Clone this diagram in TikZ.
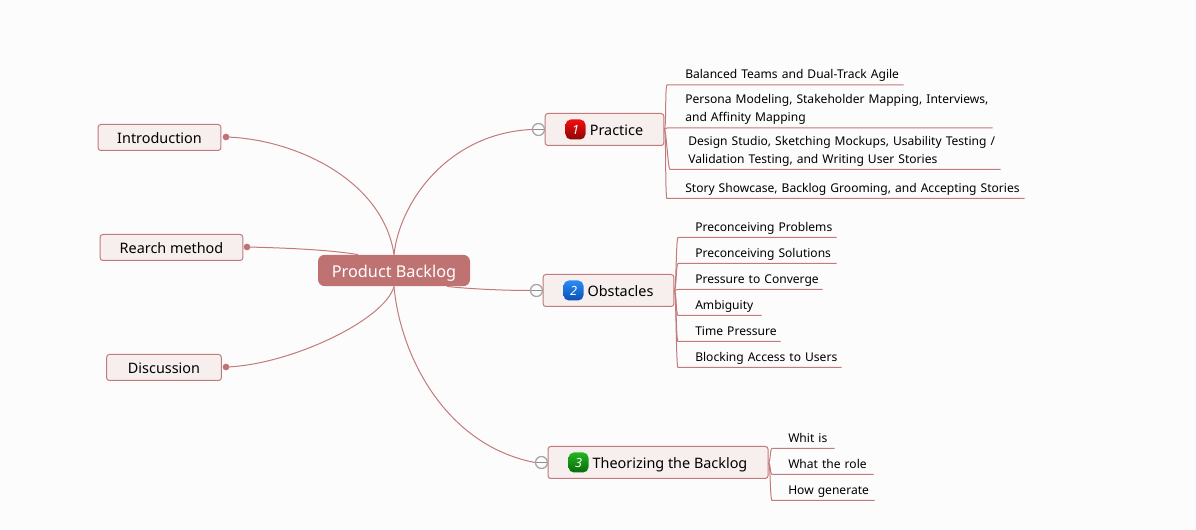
\documentclass[tikz,border=0pt]{standalone}
\usepackage{fontspec}
\setmainfont{Noto Sans}
\usetikzlibrary{positioning}

\definecolor{linered}{HTML}{C27A7A}
\definecolor{rootfill}{HTML}{BF7272}
\definecolor{topicfill}{HTML}{F7EEEE}
\definecolor{pagefill}{HTML}{FCFCFD}
\definecolor{redtop}{HTML}{F01010}
\definecolor{redlow}{HTML}{8E0505}
\definecolor{bluetop}{HTML}{2A8CF5}
\definecolor{bluelow}{HTML}{0A4FB5}
\definecolor{greentop}{HTML}{22B522}
\definecolor{greenlow}{HTML}{0A6A0A}

\tikzset{
  rootbox/.style={fill=rootfill,rounded corners=5pt,minimum width=114pt,minimum height=23.5pt,inner sep=0pt,text=white,text height=13pt,text depth=2.5pt,font=\fontsize{12.2}{14}\selectfont},
  topicbox/.style={draw=linered,line width=.75pt,fill=topicfill,rounded corners=2pt,minimum height=24pt,inner sep=0pt,text height=11pt,text depth=1.5pt,font=\fontsize{10.8}{13}\selectfont},
  sidebox/.style={topicbox,minimum height=19.5pt},
  leafbox/.style={anchor=south west,inner xsep=0pt,inner ysep=.4pt,align=left,font=\fontsize{9.05}{13.5}\selectfont,execute at end node=\strut},
  iconbox/.style={rounded corners=4pt,minimum size=15pt,inner sep=0pt,text=white,font=\fontsize{9.5}{10}\selectfont\bfseries\itshape},
  dotmark/.style={circle,fill=rootfill,minimum size=5pt,inner sep=0pt},
  collapse/.style={circle,draw=gray!70,fill=pagefill,line width=1pt,minimum size=9pt,inner sep=0pt,
    path picture={\draw[gray!90,line width=.75pt] (path picture bounding box.west) -- (path picture bounding box.east);}},
  branch/.style={draw=linered,line width=.75pt},
  leafline/.style={to path={(\tikztostart) .. controls +(2,0) and +(-2,0) .. ([xshift=-#1]\tikztotarget.south west) -- (\tikztotarget.south east)}},
  leafline/.default=13.5pt
}

\begin{document}
\begin{tikzpicture}[x=.75pt,y=-.75pt]
\useasboundingbox (0,0) rectangle (1196,530);
\fill[pagefill] (0,0) rectangle (1196,530);

% central topic
\node[rootbox] (root) at (394,270.5) {Product Backlog};

% left side
\node[sidebox,minimum width=92pt] (intro) at (159.5,137.5) {Introduction};
\node[sidebox,minimum width=107pt] (method) at (171.5,247.5) {Rearch method};
\node[sidebox,minimum width=86pt] (discuss) at (164,367.5) {Discussion};
\node[dotmark] (introdot) at (226,137) {};
\node[dotmark] (methoddot) at (247,247) {};
\node[dotmark] (discussdot) at (226,367) {};

% right side, main topics
\node[topicbox,minimum width=89pt] (practice) at (604.5,129.5) {\hspace{18pt}Practice};
\node[topicbox,minimum width=98pt] (obstacles) at (608.5,290.5) {\hspace{18pt}Obstacles};
\node[topicbox,minimum width=165pt] (theory) at (658,462.5) {\hspace{18pt}Theorizing the Backlog};

\node[iconbox,top color=redtop,bottom color=redlow] (iconone) at (575.5,129.5) {1};
\node[iconbox,top color=bluetop,bottom color=bluelow] (icontwo) at (573.5,290.5) {2};
\node[iconbox,top color=greentop,bottom color=greenlow] (iconthree) at (578.5,462.5) {3};

\node[collapse] (foldone) at (538.5,129.5) {};
\node[collapse] (foldtwo) at (536.5,290.5) {};
\node[collapse] (foldthree) at (541.5,462.5) {};

% leaves of Practice
\node[leafbox,text width=218*.75pt] (balanced) at (685,85) {Balanced Teams and Dual-Track Agile};
\node[leafbox,text width=307*.75pt] (persona) at (685,128) {Persona Modeling, Stakeholder Mapping, Interviews,\\and Affinity Mapping};
\node[leafbox,text width=312*.75pt] (studio) at (688,169.5) {Design Studio, Sketching Mockups, Usability Testing /\\Validation Testing, and Writing User Stories};
\node[leafbox,text width=339*.75pt] (showcase) at (685,198.5) {Story Showcase, Backlog Grooming, and Accepting Stories};

% leaves of Obstacles
\node[leafbox,text width=141*.75pt] (problems) at (695,237.5) {Preconceiving Problems};
\node[leafbox,text width=141*.75pt] (solutions) at (695,263.5) {Preconceiving Solutions};
\node[leafbox,text width=127*.75pt] (converge) at (695,289.5) {Pressure to Converge};
\node[leafbox,text width=66*.75pt] (ambiguity) at (695,315.5) {Ambiguity};
\node[leafbox,text width=85*.75pt] (timepress) at (695,341.5) {Time Pressure};
\node[leafbox,text width=146*.75pt] (blocking) at (695,367.5) {Blocking Access to Users};

% leaves of Theorizing
\node[leafbox,text width=46*.75pt] (whitis) at (788,448.5) {Whit is};
\node[leafbox,text width=85*.75pt] (role) at (788,474.5) {What the role};
\node[leafbox,text width=86*.75pt] (generate) at (788,500.5) {How generate};

% connectors
\draw[branch] (introdot.center) .. controls (295,139) and (383,180) .. (root.north);
\draw[branch] (methoddot.center) .. controls (290,248) and (330,250) .. ([xshift=-27pt]root.north);
\draw[branch] (discussdot.center) .. controls (290,365) and (385,320) .. (root.south);
\draw[branch] (root.north) .. controls (400,200) and (450,133) .. (foldone.west);
\draw[branch] ([xshift=39.75pt]root.south) .. controls (470,289) and (505,290.5) .. (foldtwo.west);
\draw[branch] (root.south) .. controls (400,355) and (445,445) .. (foldthree.west);

\draw[branch] (practice.east) to[leafline] (balanced);
\draw[branch] (practice.east) to[leafline] (persona);
\draw[branch] (practice.east) to[leafline] (studio);
\draw[branch] (practice.east) to[leafline] (showcase);

\draw[branch] (obstacles.east) to[leafline=12.75pt] (problems);
\draw[branch] (obstacles.east) to[leafline=12.75pt] (solutions);
\draw[branch] (obstacles.east) to[leafline=12.75pt] (converge);
\draw[branch] (obstacles.east) to[leafline=12.75pt] (ambiguity);
\draw[branch] (obstacles.east) to[leafline=12.75pt] (timepress);
\draw[branch] (obstacles.east) to[leafline=12.75pt] (blocking);

\draw[branch] (theory.east) to[leafline=12pt] (whitis);
\draw[branch] (theory.east) to[leafline=12pt] (role);
\draw[branch] (theory.east) to[leafline=12pt] (generate);

\end{tikzpicture}
\end{document}
